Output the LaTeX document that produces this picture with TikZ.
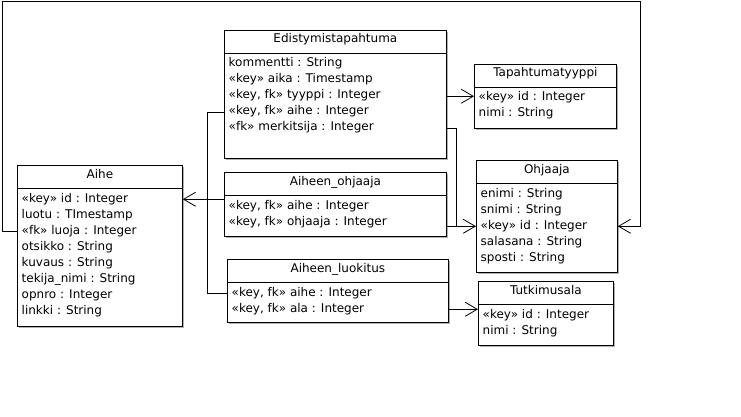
\documentclass[tikz,border=0pt]{standalone}
\usepackage{fontspec}
\setmainfont{DejaVu Sans}
\usetikzlibrary{arrows.meta,shadows}
\tikzset{
  ln/.style={line width=0.8pt, draw=black},
  box/.style={ln, fill=white, inner sep=0pt,
    drop shadow={shadow xshift=1.2pt, shadow yshift=-1.2pt, fill=black!30, opacity=1}},
  ttl/.style={inner sep=0pt, font=\fontsize{12}{16}\selectfont},
  attr/.style={inner sep=0pt, font=\fontsize{12}{16}\selectfont},
  arr/.style={ln, -{Straight Barb[length=12pt, width=14pt, line width=0.8pt]}},
}
\newcommand{\umlclass}[7]{%
  \node[box, minimum width=#4pt, minimum height=#5pt, anchor=north west] (#1) at (#2,#3) {};
  \draw[ln] ([yshift=-23pt]#1.north west) -- ([yshift=-23pt]#1.north east);
  \node[ttl, anchor=base] (#1-t) at ([yshift=-13pt]#1.north) {#6};
  \foreach \a [count=\i] in {#7} {
    \node[attr, anchor=base west] (#1\i) at ([xshift=4.5pt, yshift={-37pt-(\i-1)*16pt}]#1.north west) {\a};
  }%
}
\begin{document}
\begin{tikzpicture}[x=1pt, y=-1pt]
  \fill[white] (0,0) rectangle (741,417);
  \useasboundingbox (0,0) rectangle (741,417);

  \umlclass{E}{224}{30}{222}{128}{Edistymistapahtuma}{{kommentti : String},{«key» aika : Timestamp},{«key, fk» tyyppi : Integer},{«key, fk» aihe : Integer},{«fk» merkitsija : Integer}}
  \umlclass{A}{17}{165}{165}{161}{Aihe}{{«key» id : Integer},{luotu : TImestamp},{«fk» luoja : Integer},{otsikko : String},{kuvaus : String},{tekija\_nimi : String},{opnro : Integer},{linkki : String}}
  \umlclass{AO}{224}{172}{222}{64}{Aiheen\_ohjaaja}{{«key, fk» aihe : Integer},{«key, fk» ohjaaja : Integer}}
  \umlclass{AL}{227}{259}{221}{63}{Aiheen\_luokitus}{{«key, fk» aihe : Integer},{«key, fk» ala : Integer}}
  \umlclass{T}{474}{64}{142}{64}{Tapahtumatyyppi}{{«key» id : Integer},{nimi : String}}
  \umlclass{O}{476}{160}{141}{112}{Ohjaaja}{{enimi : String},{snimi : String},{«key» id : Integer},{salasana : String},{sposti : String}}
  \umlclass{Tu}{478}{281}{135}{64}{Tutkimusala}{{«key» id : Integer},{nimi : String}}

  % connectors
  \coordinate (jo) at ([xshift=-20pt]O.west |- O3.mid);
  \draw[arr] (E.east |- E3.mid) -- (T.west |- E3.mid);
  \draw[ln] (E.east |- E5.mid) -| (jo);
  \draw[arr] (AO.east |- O3.mid) -- (O.west |- O3.mid);
  \draw[arr] (AO.west |- A1.mid) -- (A.east |- A1.mid);
  \draw[ln] (E.west |- E4.mid) -- ++(-17,0) |- (AL.west |- AL1.mid);
  \draw[arr] (AL.east |- AL2.mid) -- (Tu.west |- AL2.mid);
  \draw[arr] (A.west |- A3.mid) -- ++(-15,0) |- (640,1) |- (O.east |- O3.mid);
\end{tikzpicture}
\end{document}
